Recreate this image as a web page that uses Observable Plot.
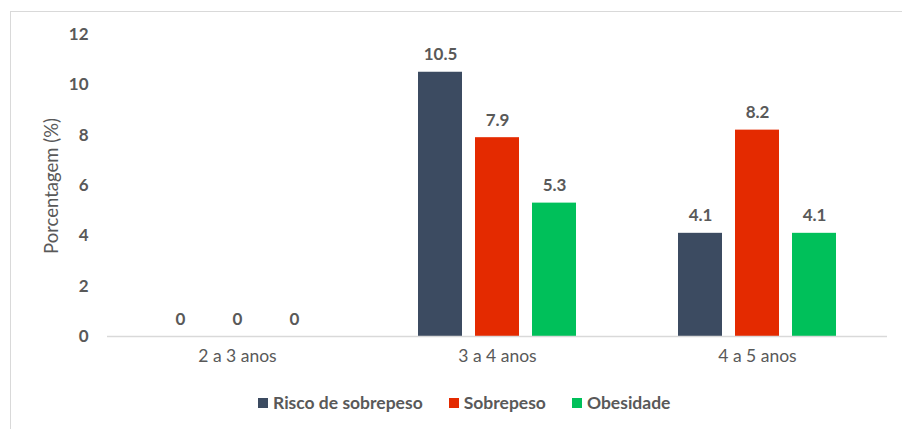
<!DOCTYPE html>
<html>
<head>
<meta charset="utf-8">
<script src="https://cdn.jsdelivr.net/npm/d3@7"></script>
<script src="https://cdn.jsdelivr.net/npm/@observablehq/plot@0.6"></script>
<style>
  html, body { margin: 0; padding: 0; background: #fff; overflow: hidden; }
  body { width: 902px; height: 429px; position: relative; font-family: Lato, "Open Sans", sans-serif; }
  #frame { position: absolute; left: 10px; top: 11px; width: 920px; height: 440px; border: 1px solid #d9d9d9; box-sizing: border-box; }
  #chart { position: absolute; left: 0; top: 0; }
  #ylabel { position: absolute; left: 51px; top: 186px; transform: translate(-50%, -50%) rotate(-90deg); font-size: 18.5px; color: #595959; white-space: nowrap; }
  #legend { position: absolute; left: 258px; top: 392px; display: flex; gap: 26px; font-size: 17.5px; font-weight: bold; color: #595959; white-space: nowrap; }
  #legend span.item { display: flex; align-items: center; gap: 5px; }
  #legend span.sw { display: inline-block; width: 10px; height: 10px; }
</style>
</head>
<body>
<div id="frame"></div>
<div id="chart"></div>
<div id="ylabel">Porcentagem (%)</div>
<div id="legend"></div>
<script>
const categories = ["2 a 3 anos", "3 a 4 anos", "4 a 5 anos"];
const series = ["Risco de sobrepeso", "Sobrepeso", "Obesidade"];
const risco = [0, 10.5, 4.1];
const sobrepeso = [0, 7.9, 8.2];
const obesidade = [0, 5.3, 4.1];
const colors = ["#3c4b61", "#e42a00", "#00c05a"];
const yTicks = [0, 2, 4, 6, 8, 10, 12];

const values = [risco, sobrepeso, obesidade];
const data = [];
categories.forEach((c, i) => {
  series.forEach((s, j) => data.push({group: c, series: s, value: values[j][i]}));
});

const textColor = "#595959";
const plot = Plot.plot({
  width: 902,
  height: 390,
  marginLeft: 106,
  marginRight: 14,
  marginTop: 34,
  marginBottom: 54,
  style: {fontFamily: "Lato, 'Open Sans', sans-serif", color: textColor, background: "transparent"},
  fx: {domain: categories, padding: 0, label: null, tickSize: 0, tickPadding: 13, axis: "bottom"},
  x: {domain: series, paddingInner: 0.22, paddingOuter: 0.88, axis: null},
  y: {domain: [0, 12], ticks: yTicks, tickSize: 0, tickPadding: 19, label: null},
  color: {domain: series, range: colors},
  marks: [
    Plot.barY(data, {fx: "group", x: "series", y: "value", fill: "series"}),
    Plot.ruleY([0], {stroke: "#d9d9d9", strokeWidth: 1.5}),
    Plot.text(data, {fx: "group", x: "series", y: "value", text: d => String(d.value), dy: -12, lineAnchor: "bottom", fontSize: 17, fontWeight: "bold", fill: textColor})
  ]
});
plot.querySelectorAll("g[aria-label='y-axis tick label']").forEach(e => { e.setAttribute("font-weight", "bold"); e.setAttribute("font-size", "17"); });
plot.querySelectorAll("g[aria-label='fx-axis tick label']").forEach(e => { e.setAttribute("font-size", "17.5"); });
document.getElementById("chart").appendChild(plot);

const legend = document.getElementById("legend");
series.forEach((s, i) => {
  const item = document.createElement("span");
  item.className = "item";
  const sw = document.createElement("span");
  sw.className = "sw";
  sw.style.background = colors[i];
  item.appendChild(sw);
  item.appendChild(document.createTextNode(s));
  legend.appendChild(item);
});
</script>
</body>
</html>
